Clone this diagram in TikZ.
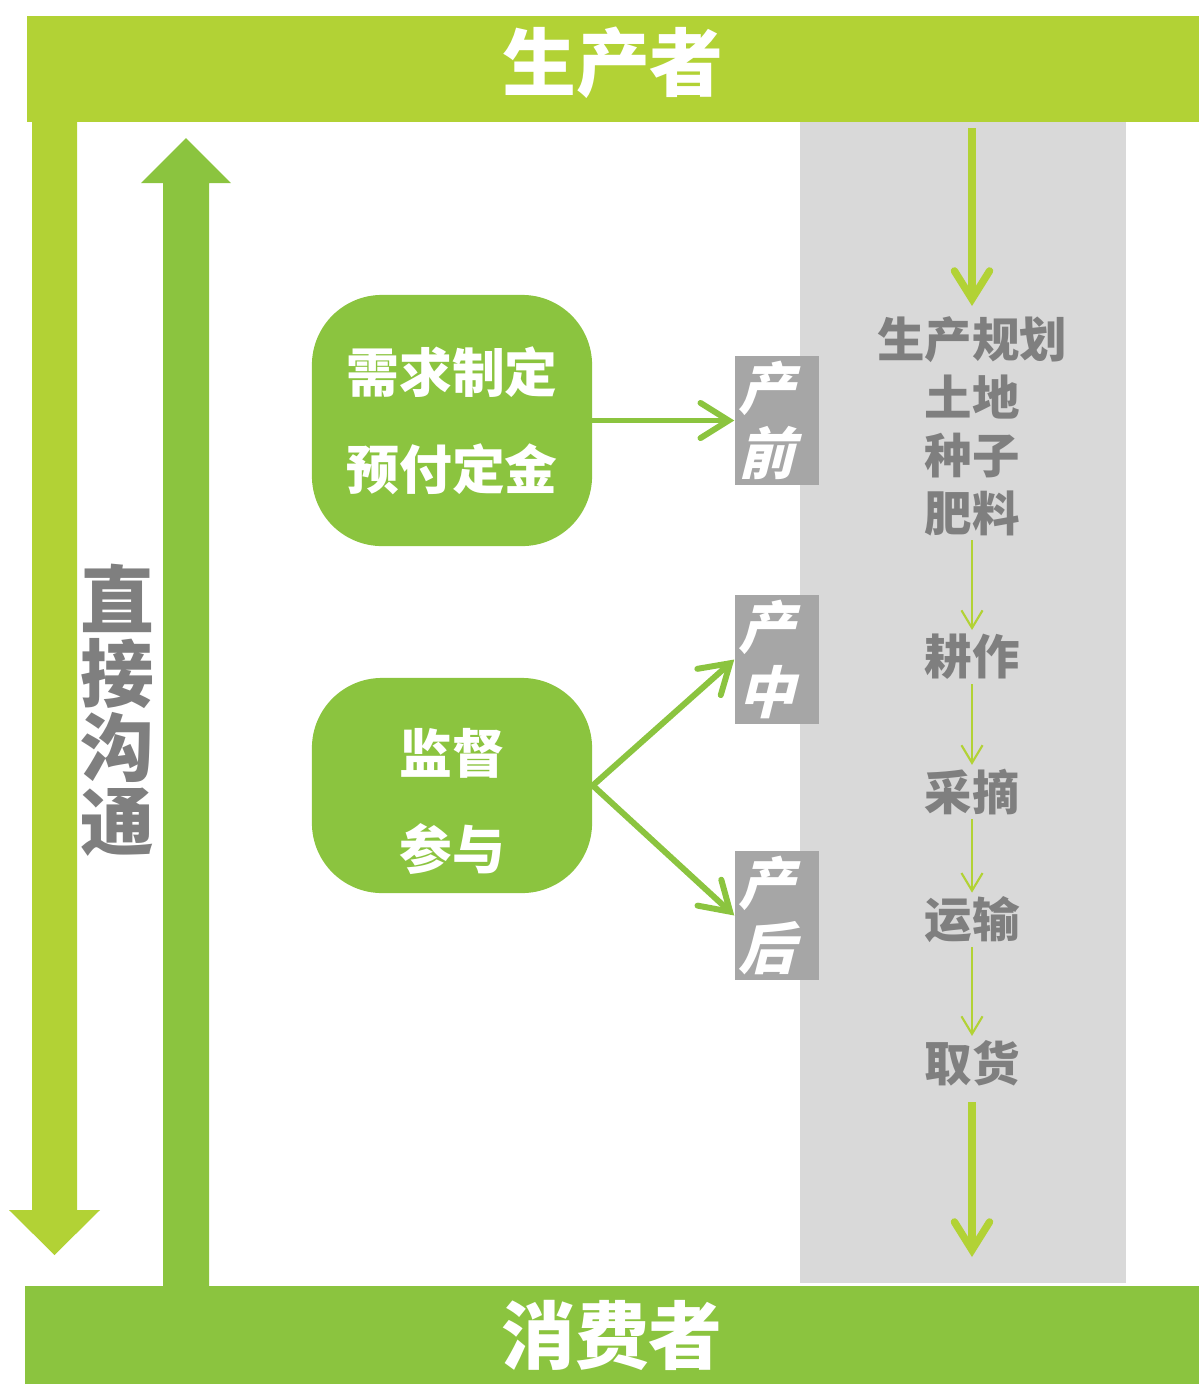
\documentclass[tikz,border=0pt]{standalone}
\usepackage{fontspec}
\newfontfamily\cjk{Noto Sans CJK SC}
\newfontfamily\cjkslant[FakeSlant=0.25]{Noto Sans CJK SC}
\usetikzlibrary{arrows.meta}
\definecolor{lime}{HTML}{B2D235}
\definecolor{leaf}{HTML}{8BC43F}
\definecolor{panel}{HTML}{D9D9D9}
\definecolor{tag}{HTML}{A6A6A6}
\definecolor{word}{HTML}{7F7F7F}
\tikzset{
  bar/.style={inner sep=0pt, text=white, font=\cjk\bfseries\fontsize{21}{21}\selectfont},
  box/.style={fill=leaf, rounded corners=0.7cm, minimum width=2.8cm, text=white, align=center,
    font=\cjk\bfseries\fontsize{15}{27.5}\selectfont},
  stage/.style={fill=tag, minimum height=1.29cm, inner sep=0pt, text width=0.84cm, text=white,
    align=left, font=\cjkslant\bfseries\fontsize{16}{18.5}\selectfont},
  item/.style={inner sep=1pt, text=word, align=center, font=\cjk\bfseries\fontsize{13.5}{16.5}\selectfont},
  link/.style={leaf, line width=1.7pt, line cap=round, -{Straight Barb[length=8pt,width=10pt,line cap=round]}},
  flow/.style={lime, line width=0.6pt, -{Straight Barb[length=5pt,width=6pt]}},
  bigflow/.style={lime, line width=2.1pt, -{Straight Barb[length=8pt,width=10pt,line cap=round]}},
}
\begin{document}
\begin{tikzpicture}[x=0.01cm,y=-0.01cm]
    \useasboundingbox (0,0) rectangle (1199,1384);
    % panel of steps
    \fill[panel] (800,122) rectangle (1126,1283);
    % producer and consumer bars
    \fill[lime] (27,16) rectangle (1199,122);
    \fill[leaf] (25,1286) rectangle (1199,1384);
    \node[bar] (producer) at (613,63) {生产者};
    \node[bar] (consumer) at (612,1335) {消费者};
    % two block arrows
    \fill[lime] (32,122) -- (77,122) -- (77,1210) -- (100,1210) -- (54.5,1255) -- (9,1210) -- (32,1210) -- cycle;
    \fill[leaf] (163,1286) -- (163,183) -- (141,183) -- (186,138) -- (231,183) -- (209,183) -- (209,1286) -- cycle;
    \node[text=word, align=center, inner sep=0pt, font=\cjk\bfseries\fontsize{21}{21}\selectfont] (talk) at (117,710) {直\\接\\沟\\通};
    % consumer actions
    \node[box, minimum height=2.51cm] (demand) at (452,420.5) {需求制定\\预付定金};
    \node[box, minimum height=2.15cm] (watch) at (452,785.5) {\rule{0pt}{22pt}监督\\参与};
    \node[stage] (pre) at (777,420.5) {\hspace*{1pt}产\\\hspace*{1pt}前};
    \node[stage] (mid) at (777,659.5) {\hspace*{1pt}产\\\hspace*{1pt}中};
    \node[stage] (post) at (777,915.5) {\hspace*{1pt}产\\\hspace*{1pt}后};
    \draw[link] (demand.east) -- (pre.west);
    \draw[link] (watch.east) -- (mid.west);
    \draw[link] (watch.east) -- (post.west);
    % steps
    \node[item] (plan) at (972,426) {生产规划\\土地\\种子\\肥料};
    \node[item] (farm) at (972,657) {耕作};
    \node[item] (pick) at (972,792) {采摘};
    \node[item] (ship) at (972,920) {运输};
    \node[item] (fetch) at (972,1063) {取货};
    \coordinate (start) at (972,128);
    \coordinate (stop) at (972,1257);
    \draw[bigflow] (start) -- (972,306);
    \draw[flow] (plan.south) -- (farm.north);
    \draw[flow] (farm.south) -- (pick.north);
    \draw[flow] (pick.south) -- (ship.north);
    \draw[flow] (ship.south) -- (fetch.north);
    \draw[bigflow, shorten <=3.5pt] (fetch.south) -- (stop);
\end{tikzpicture}
\end{document}
